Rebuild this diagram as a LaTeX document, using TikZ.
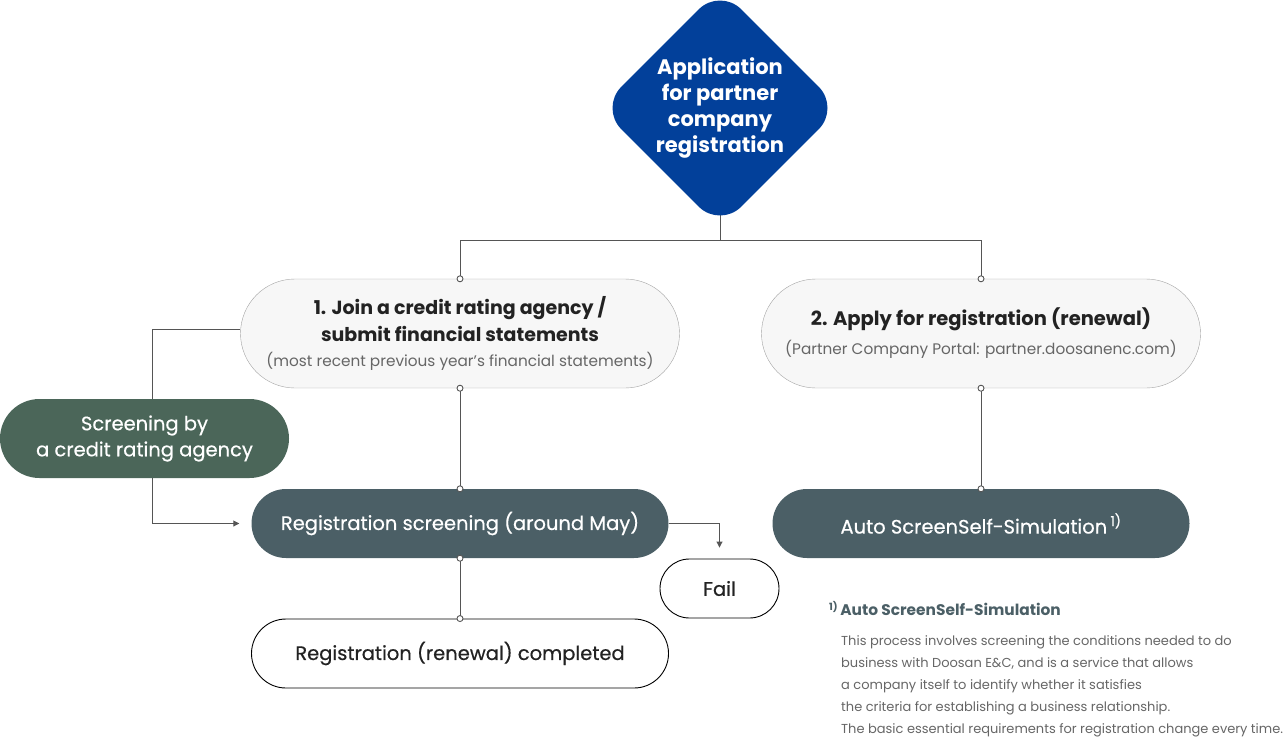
\documentclass[tikz,border=0pt]{standalone}
\usepackage{fontspec}
\setmainfont{Poppins}
\newfontfamily\medfont{Poppins}[FakeBold=0.5]
\usetikzlibrary{shapes.geometric,arrows.meta,backgrounds}
\definecolor{dblue}{HTML}{02409A}
\definecolor{dgreen}{HTML}{4B6659}
\definecolor{slate}{HTML}{4B5F66}
\definecolor{lgray}{HTML}{F7F7F7}
\definecolor{bgray}{HTML}{A3A3A3}
\definecolor{lcol}{HTML}{555555}
\definecolor{tgray}{HTML}{666666}
\definecolor{ink}{HTML}{222222}
\tikzset{
	lightbox/.style={rectangle, rounded corners=54.5pt, draw=bgray, fill=lgray, minimum width=439pt, minimum height=109pt, align=center, text=ink},
	darkbox/.style={rectangle, rounded corners=34.5pt, fill=slate, minimum width=417pt, minimum height=69pt, text=white, font=\medfont\fontsize{19.5}{22}\selectfont},
	whitebox/.style={rectangle, rounded corners=34.5pt, draw=black, line width=0.9pt, fill=white, minimum width=417pt, minimum height=69pt, text=ink, font=\medfont\fontsize{19.5}{22}\selectfont},
	conn/.style={draw=lcol, line width=0.9pt},
	dot/.style={circle, draw=lcol, fill=white, line width=0.9pt, inner sep=0pt, minimum size=6pt}
}
\begin{document}
\begin{tikzpicture}[x=1pt,y=-1pt]
	\useasboundingbox (0,0) rectangle (1287,737);

	\node[diamond, aspect=1, minimum size=240pt, inner sep=0pt, rounded corners=30pt, fill=dblue, text=white, align=center, font=\bfseries\fontsize{21}{26}\selectfont] (apply) at (720,108) {Application\\for partner\\company\\registration};

	\node[lightbox, font=\fontsize{19}{27}\selectfont] (join) at (460,333.5) {\textbf{1. Join a credit rating agency /}\\\textbf{submit financial statements}\\[-2pt]{\fontsize{15.3}{18}\selectfont\color{tgray}(most recent previous year’s financial statements)}};
	\node[lightbox, font=\fontsize{19.5}{29}\selectfont] (portal) at (981,333.5) {\textbf{2. Apply for registration (renewal)}\\{\fontsize{15.3}{18}\selectfont\color{tgray}(Partner Company Portal: partner.doosanenc.com)}};

	\node[rectangle, rounded corners=39.5pt, fill=dgreen, minimum width=289pt, minimum height=79pt, text=white, align=center, font=\medfont\fontsize{19.5}{26}\selectfont] (screen) at (144.5,438.5) {Screening by\\a credit rating agency};

	\node[darkbox] (regscr) at (460,523.5) {Registration screening (around May)};
	\node[darkbox] (auto) at (981,523.5) {Auto ScreenSelf-Simulation\,\textsuperscript{1)}};
	\node[whitebox, minimum width=119pt, minimum height=59pt, rounded corners=29.5pt] (fail) at (719.5,588.5) {Fail};
	\node[whitebox] (done) at (460,653.5) {Registration (renewal) completed};

	\node[anchor=base west, inner sep=0pt, text=slate, font=\bfseries\fontsize{15.4}{18}\selectfont] (fntitle) at (829,615) {\raisebox{5pt}{\fontsize{10}{10}\selectfont 1)}\,Auto ScreenSelf-Simulation};
	\node[anchor=north west, inner sep=0pt, align=left, text=tgray, font=\fontsize{13}{22}\selectfont] (fnbody) at (841,635) {This process involves screening the conditions needed to do\\business with Doosan E\&C, and is a service that allows\\a company itself to identify whether it satisfies\\the criteria for establishing a business relationship.\\The basic essential requirements for registration change every time.};

	\coordinate (fork) at (720,240);
	\begin{scope}[on background layer]
		\draw[conn] (apply.center) -- (fork) -| (join.north);
		\draw[conn] (fork) -| (portal.north);
		\draw[conn] (join.south) -- (regscr.north);
		\draw[conn] (portal.south) -- (auto.north);
		\draw[conn] (regscr.south) -- (done.north);
		\draw[conn] ([yshift=4pt]join.west) -| ([xshift=7.5pt]screen.north);
		\draw[conn, -{Triangle[length=6pt,width=6pt]}] ([xshift=7.5pt]screen.south) |- ([xshift=-12pt]regscr.west);
		\draw[conn, -{Triangle[length=6pt,width=6pt]}] (regscr.east) -| ([yshift=11pt]fail.north);
	\end{scope}

	\foreach \p [count=\i] in {join.north, portal.north, join.south, portal.south, regscr.north, auto.north, regscr.south, done.north}
		\node[dot] (dot\i) at (\p) {};
\end{tikzpicture}
\end{document}
